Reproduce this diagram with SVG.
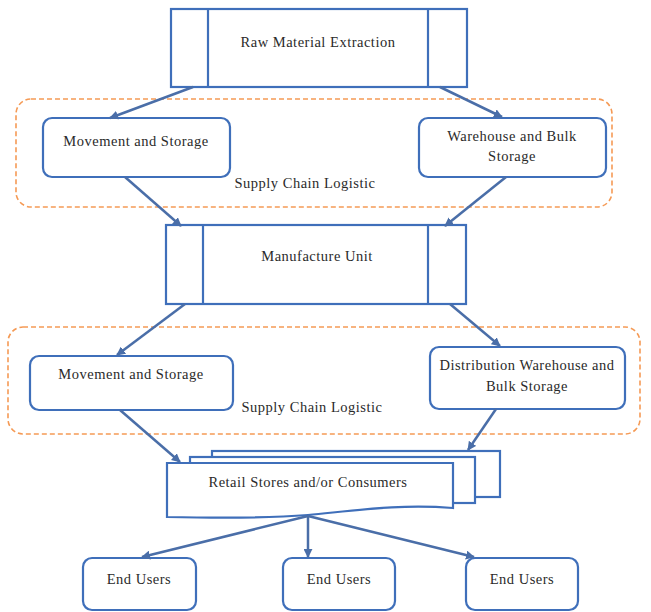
<svg xmlns="http://www.w3.org/2000/svg" width="651" height="612" viewBox="0 0 651 612">
<defs>
<marker id="ah" viewBox="0 0 10 10" refX="9" refY="5" markerWidth="3.6" markerHeight="3.6" orient="auto" markerUnits="strokeWidth">
<path d="M0,0 L10,5 L0,10 z" fill="#4a6ea8"/>
</marker>
<style>
.box{fill:#fff;stroke:#3f6fba;stroke-width:2.2}
.grp{fill:none;stroke:#f59a55;stroke-width:1.6;stroke-dasharray:5 3}
.con{stroke:#4a6ea8;stroke-width:2.5;fill:none;marker-end:url(#ah)}
text{font-size:14.5px;fill:#2a2a2a;text-anchor:middle;letter-spacing:0.5px}
</style>
</defs>
<rect width="651" height="612" fill="#fff"/>
<g font-family="'Liberation Serif', 'Times New Roman', Times, serif">
<g id="group1"><rect class="grp" x="16" y="99" width="596" height="108" rx="15"/><text x="305" y="188">Supply Chain Logistic</text></g>
<g id="group2"><rect class="grp" x="8" y="327" width="632" height="107" rx="15"/><text x="312" y="412">Supply Chain Logistic</text></g>
<g id="raw"><rect class="box" x="171" y="9" width="296" height="78"/><line class="box" x1="208" y1="9" x2="208" y2="87"/><line class="box" x1="428" y1="9" x2="428" y2="87"/><text x="318" y="47">Raw Material Extraction</text></g>
<g id="mov1"><rect class="box" x="43" y="118" width="187" height="59" rx="9"/><text x="136" y="146">Movement and Storage</text></g>
<g id="ware"><rect class="box" x="419" y="118" width="187" height="59" rx="9"/><text x="512" y="141">Warehouse and Bulk</text><text x="512" y="161">Storage</text></g>
<g id="manu"><rect class="box" x="166" y="225" width="300" height="79"/><line class="box" x1="203" y1="225" x2="203" y2="304"/><line class="box" x1="428" y1="225" x2="428" y2="304"/><text x="317" y="261">Manufacture Unit</text></g>
<g id="mov2"><rect class="box" x="30" y="356" width="203" height="54" rx="9"/><text x="131" y="379">Movement and Storage</text></g>
<g id="dist"><rect class="box" x="430" y="347" width="195" height="62" rx="9"/><text x="527" y="370">Distribution Warehouse and</text><text x="527" y="391">Bulk Storage</text></g>
<g id="retail">
<rect class="box" x="212" y="451" width="288" height="46"/>
<rect class="box" x="190" y="457" width="285" height="46"/>
<path class="box" d="M167,463 L453,463 L453,508 C400,504 360,510 308,515 C260,519 210,518 167,517 Z"/>
<text x="308" y="487">Retail Stores and/or Consumers</text></g>
<g id="end1"><rect class="box" x="83" y="558" width="113" height="52" rx="9"/><text x="139" y="584">End Users</text></g>
<g id="end2"><rect class="box" x="283" y="558" width="112" height="52" rx="9"/><text x="339" y="584">End Users</text></g>
<g id="end3"><rect class="box" x="466" y="558" width="112" height="52" rx="9"/><text x="522" y="584">End Users</text></g>
</g>
<g id="connectors">
<line class="con" x1="193" y1="87" x2="110" y2="118"/>
<line class="con" x1="440" y1="87" x2="502" y2="117"/>
<line class="con" x1="125" y1="177" x2="181" y2="226"/>
<line class="con" x1="506" y1="177" x2="445" y2="226"/>
<line class="con" x1="185" y1="304" x2="117" y2="355"/>
<line class="con" x1="450" y1="304" x2="500" y2="346"/>
<line class="con" x1="120" y1="410" x2="180" y2="462"/>
<line class="con" x1="496" y1="409" x2="468" y2="450"/>
<line class="con" x1="308" y1="516" x2="142" y2="557"/>
<line class="con" x1="308" y1="516" x2="308" y2="557"/>
<line class="con" x1="308" y1="516" x2="474" y2="557"/>
</g>
</svg>
